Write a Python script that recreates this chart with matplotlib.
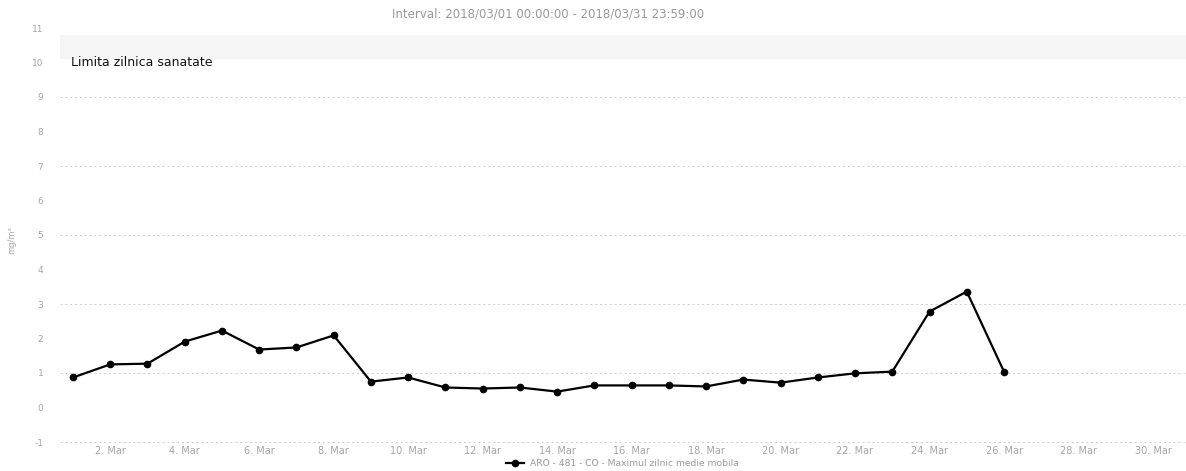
import matplotlib
matplotlib.use("Agg")
import matplotlib.pyplot as plt
import numpy as np

title = "Interval: 2018/03/01 00:00:00 - 2018/03/31 23:59:00"
series_name = "ARO - 481 - CO - Maximul zilnic medie mobila"
limit_label = "Limita zilnica sanatate"
y_label = "mg/m³"

days = list(range(1, 27))
values = [0.87, 1.25, 1.27, 1.91, 2.23, 1.68, 1.74, 2.09, 0.75, 0.87,
          0.58, 0.55, 0.58, 0.46, 0.64, 0.64, 0.64, 0.61, 0.81, 0.72,
          0.87, 0.99, 1.04, 2.78, 3.36, 1.04]
tick_days = list(range(2, 31, 2))
tick_labels = [f"{d}. Mar" for d in tick_days]
y_ticks = list(range(-1, 12))
grid_values = [-1, 1, 3, 5, 7, 9]
limit_value = 10
band = (10.1, 10.8)

W, H = 1186, 471
fig = plt.figure(figsize=(W / 100, H / 100), dpi=100)
px_day = 37.24
x_left_px, x_right_px = 60, 1186
xl = 1 + (x_left_px - 73) / px_day
xr = 1 + (x_right_px - 73) / px_day
ax = fig.add_axes([x_left_px / W, 1 - 442 / H, (x_right_px - x_left_px) / W, (442 - 28) / H])
ax.set_xlim(xl, xr)
ax.set_ylim(-1, 11)

for s in ax.spines.values():
    s.set_visible(False)

ax.axhspan(band[0], band[1], color="#f5f5f5", zorder=0, lw=0)
for yv in grid_values:
    ax.axhline(yv, color="#cccccc", lw=0.7, ls=(0, (2, 3)), zorder=1, clip_on=False)

ax.plot(days, values, color="black", lw=1.6, marker="o", ms=4.5, zorder=3)

ax.text(1 - 2 / px_day, limit_value, limit_label, fontsize=9, color="#111111",
        va="center", ha="left", zorder=4)

ax.set_xticks(tick_days)
ax.set_xticklabels(tick_labels, fontsize=7, color="#a5a5a5")
ax.set_yticks(y_ticks)
ax.set_yticklabels([str(v) for v in y_ticks], fontsize=6.5, color="#a5a5a5")
ax.tick_params(axis="both", length=0)
ax.tick_params(axis="y", pad=12)
ax.tick_params(axis="x", pad=3)

fig.text(12 / W, 1 - 240 / H, y_label, rotation=90, fontsize=6, color="#a5a5a5",
         ha="center", va="center")
fig.text(548 / W, 1 - 14 / H, title, fontsize=8.5, color="#999999", ha="center", va="center")

# legend
lx = 506 / W
ly = 1 - 463 / H
fig.add_artist(plt.Line2D([lx, lx + 18 / W], [ly, ly], transform=fig.transFigure,
                          color="black", lw=1.6))
fig.add_artist(plt.Line2D([lx + 9 / W], [ly], transform=fig.transFigure,
                          color="black", marker="o", ms=4.5, lw=0))
fig.text(lx + 24 / W, ly, series_name, fontsize=6.6, color="#999999", ha="left", va="center")

fig.savefig("out.png", dpi=100, facecolor="white")
